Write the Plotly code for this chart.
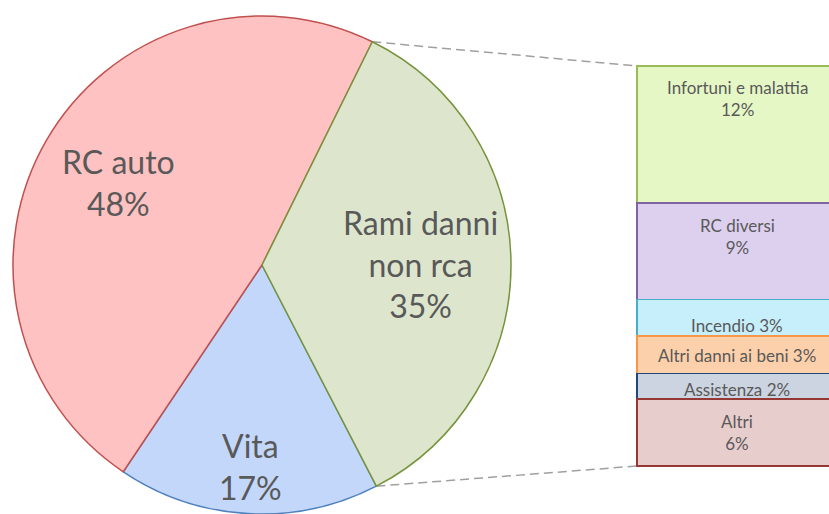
import math
import plotly.graph_objects as go

# ---------------- data ----------------
pie_labels = ["Vita", "RC auto", "Rami danni<br>non rca"]
pie_values = [17.0, 47.9, 35.1]

sub_labels = ["Infortuni e malattia", "RC diversi", "Incendio",
              "Altri danni ai beni", "Assistenza", "Altri"]
sub_values = [12.0, 8.5, 3.2, 3.3, 2.2, 5.9]

# ---------------- styles ----------------
W, H = 829, 514
pie_fill = ["#c3d7fa", "#ffc2c2", "#dde6cd"]
pie_line = ["#4f81bd", "#c0504d", "#77933c"]
sub_fill = ["#e6f7c6", "#ddd0ef", "#c6eefb", "#fcd0aa", "#ccd4e1", "#e8cdcd"]
sub_line = ["#9bbb59", "#8064a2", "#4bacc6", "#f79646", "#1f497d", "#953735"]
text_color = "#595959"
FONT = "Lato"

# pie geometry (pixels)
PIE_R = 249
PIE_CX = 262
PIE_CY = H - PIE_R
RAMI_START = 26.3          # angle (clockwise from 12 o'clock) where "Rami danni" begins
label_radius = [0.81, 0.665, 0.635]

# bar geometry (pixels)
BAR_LEFT, BAR_W = 637, 200
BAR_TOP, BAR_BOTTOM = 66, 466
bar_two_lines = [True, True, False, False, False, True]
bar_label_offset = [33, 34, 25.5, 19, 16, 34]


def pct(v, total):
    return int(math.floor(v * 100.0 / total + 0.5 + 1e-9))


total = sum(pie_values)
rami_share = pie_values[2] / total * 360
ROTATION = RAMI_START + rami_share   # first slice (Vita) starts where Rami ends

fig = go.Figure()

fig.add_trace(go.Pie(
    labels=pie_labels, values=pie_values, sort=False, direction="clockwise",
    rotation=ROTATION, textinfo="none", hoverinfo="skip",
    marker=dict(colors=pie_fill, line=dict(color=pie_line, width=1.5)),
    domain=dict(x=[(PIE_CX - PIE_R) / W, (PIE_CX + PIE_R) / W],
                y=[0, 2 * PIE_R / H]),
    showlegend=False,
))

# stacked bar (reversed y so the first item is on top)
ppu = (BAR_BOTTOM - BAR_TOP) / sum(sub_values)
pad = 6
y_dom_px = (BAR_TOP - pad, BAR_BOTTOM + pad)
y_range = [sum(sub_values) + pad / ppu, -pad / ppu]
x_dom_left = BAR_LEFT - 5
x_dom_w = W - x_dom_left
x_a = -0.5 - (BAR_LEFT - x_dom_left) / BAR_W
x_b = x_a + x_dom_w / BAR_W

for lab, v, fc, lc in zip(sub_labels, sub_values, sub_fill, sub_line):
    fig.add_trace(go.Bar(
        x=[0], y=[v], width=1, name=lab,
        marker=dict(color=fc, line=dict(color=lc, width=1.5)),
        hoverinfo="skip", showlegend=False,
    ))

fig.update_layout(
    barmode="stack",
    width=W, height=H,
    margin=dict(l=0, r=0, t=0, b=0),
    paper_bgcolor="white", plot_bgcolor="white",
    xaxis=dict(visible=False, domain=[x_dom_left / W, 1], range=[x_a, x_b]),
    yaxis=dict(visible=False, domain=[1 - y_dom_px[1] / H, 1 - y_dom_px[0] / H],
               range=y_range),
)

annotations = []
# pie labels
start = ROTATION
for lab, v, f in zip(pie_labels, pie_values, label_radius):
    span = v / total * 360
    mid = math.radians(start + span / 2)
    start += span
    px = PIE_CX + f * PIE_R * math.sin(mid)
    py = PIE_CY - f * PIE_R * math.cos(mid)
    annotations.append(dict(
        x=px / W, y=1 - py / H, xref="paper", yref="paper",
        text=f"{lab}<br>{pct(v, total)}%", showarrow=False,
        font=dict(family=FONT, size=32, color=text_color),
        xanchor="center", yanchor="middle", align="center"))

# bar labels
base = 0.0
for lab, v, two, off in zip(sub_labels, sub_values, bar_two_lines, bar_label_offset):
    top_px = BAR_TOP + base * ppu
    base += v
    sep = "<br>" if two else " "
    annotations.append(dict(
        x=0, y=1 - (top_px + off) / H, xref="x", yref="paper",
        text=f"{lab}{sep}{pct(v, total)}%", showarrow=False,
        font=dict(family=FONT, size=17, color=text_color),
        xanchor="center", yanchor="middle", align="center"))
fig.update_layout(annotations=annotations)

# connector lines from the pie slice edges to the bar corners
rami_start = math.radians(RAMI_START)
rami_end = math.radians(RAMI_START + rami_share)
shapes = []
for ang, by in ((rami_start, BAR_TOP), (rami_end, BAR_BOTTOM)):
    sx = PIE_CX + PIE_R * math.sin(ang)
    sy = PIE_CY - PIE_R * math.cos(ang)
    shapes.append(dict(type="line", xref="paper", yref="paper",
                       x0=sx / W, y0=1 - sy / H, x1=BAR_LEFT / W, y1=1 - by / H,
                       line=dict(color="#a0a0a0", width=1.5, dash="9px,5px"),
                       layer="below"))
fig.update_layout(shapes=shapes)

fig.write_html("out.html",
               config={"displayModeBar": False, "staticPlot": True},
               post_script="document.body.style.margin='0';document.body.style.overflow='hidden';")
